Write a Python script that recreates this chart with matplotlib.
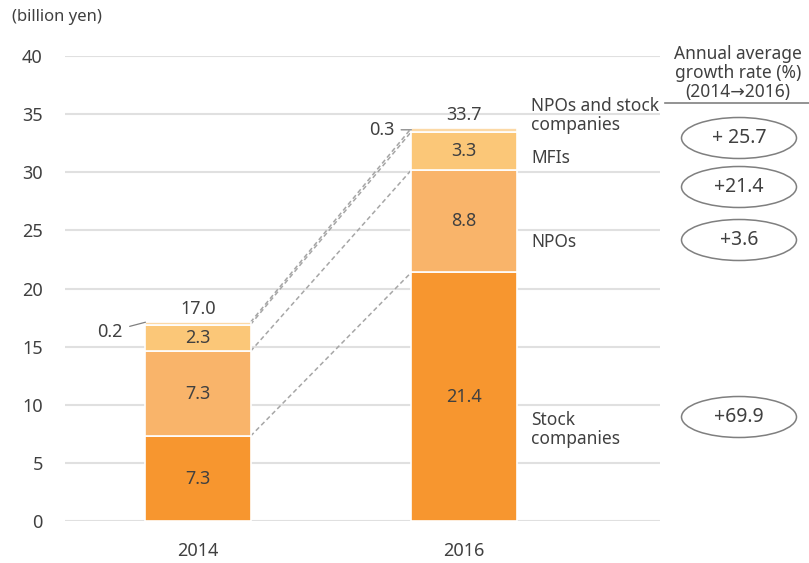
import numpy as np
import matplotlib.pyplot as plt
from matplotlib.patches import Ellipse

plt.rcParams['font.family'] = ['Noto Sans', 'DejaVu Sans']

# Data
years = ['2014', '2016']
stock = [7.3, 21.4]
npos = [7.3, 8.8]
mfis = [2.3, 3.3]
npos_stock = [0.2, 0.3]
totals = [17.0, 33.7]
segment_names = ['Stock\ncompanies', 'NPOs', 'MFIs', 'NPOs and stock\ncompanies']
growth = ['+69.9', '+3.6', '+21.4', '+ 25.7']

colors = ['#F7962F', '#F9B46A', '#FBC778', '#FCD9A6']
text_c = '#404040'
W, H = 809, 563

fig = plt.figure(figsize=(W / 100, H / 100), dpi=100)
# axes spans pixel x 65..660, y 56..521
ax = fig.add_axes([65 / W, (H - 521) / H, 595 / W, 465 / H])

x = np.arange(len(years))
bw = 0.395
segs = [stock, npos, mfis, npos_stock]
bottoms = np.zeros(len(years))
tops = []
for vals, c in zip(segs, colors):
    vals = np.array(vals)
    ax.bar(x, vals, bw, bottom=bottoms, color=c, edgecolor='white', linewidth=1.2, zorder=3)
    bottoms = bottoms + vals
    tops.append(bottoms.copy())

# value labels inside bars (skip tiny top segment)
bottoms = np.zeros(len(years))
for vals in segs[:3]:
    for i, v in enumerate(vals):
        ax.text(x[i], bottoms[i] + v / 2, f'{v:.1f}', ha='center', va='center', fontsize=13,
                color=text_c, zorder=4)
    bottoms = bottoms + np.array(vals)

# totals above bars
for i, t in enumerate(totals):
    ax.text(x[i], tops[-1][i] + 0.35, f'{t:.1f}', ha='center', va='bottom', fontsize=13, color=text_c, zorder=4)

# small top segment labels with leader lines
ax.annotate(f'{npos_stock[0]}', xy=(x[0] - bw / 2, tops[-1][0]), xytext=(x[0] - bw / 2 - 0.085, tops[-1][0] - 0.8),
            ha='right', va='center', fontsize=13, color=text_c,
            arrowprops=dict(arrowstyle='-', color='#808080', lw=0.9, shrinkA=3, shrinkB=0))
ax.annotate(f'{npos_stock[1]}', xy=(x[1] - bw / 2, tops[-1][1] - 0.15), xytext=(x[1] - bw / 2 - 0.065, tops[-1][1] - 0.15),
            ha='right', va='center', fontsize=13, color=text_c,
            arrowprops=dict(arrowstyle='-', color='#808080', lw=0.9, shrinkA=3, shrinkB=0))

# dashed connectors
for t in tops:
    ax.plot([x[0] + bw / 2, x[1] - bw / 2], [t[0], t[1]], ls=(0, (3, 2)), color='#A6A6A6', lw=1.1, zorder=2)

# segment names to the right of 2016 bar
name_y = [7.9, 24.0, 31.2, 34.9]
for n, yy in zip(segment_names, name_y):
    ax.text(x[1] + bw / 2 + 0.055, yy, n, ha='left', va='center', fontsize=12.5, color=text_c,
            linespacing=1.05, clip_on=False)

ax.set_xlim(-0.5, 1.737)
ax.set_ylim(0, 40)
ax.set_yticks(range(0, 41, 5))
ax.set_xticks(x)
ax.set_xticklabels(years)
ax.yaxis.grid(True, color='#E0E0E0', lw=1.5, zorder=0)
ax.set_axisbelow(True)
for s in ax.spines.values():
    s.set_visible(False)
ax.tick_params(axis='y', length=0, pad=16, labelsize=13, labelcolor=text_c)
ax.tick_params(axis='x', length=0, pad=15, labelsize=13, labelcolor=text_c)

fig.text(12 / W, 1 - 17 / H, '(billion yen)', ha='left', va='center', fontsize=12, color=text_c)

# growth rate header
fig.text(738 / W, 1 - 73 / H, 'Annual average\ngrowth rate (%)\n(2014→2016)', ha='center', va='center',
         fontsize=12.5, color=text_c, linespacing=1.1)
fig.add_artist(plt.Line2D([665 / W, 1.0], [1 - 103 / H, 1 - 103 / H], color='#808080', lw=1.2,
                          transform=fig.transFigure))

# growth ellipses
ell_y = [417, 240, 187, 138]
for g, py in zip(growth, ell_y):
    fig.add_artist(Ellipse((739 / W, 1 - py / H), 115 / W, 41 / H, transform=fig.transFigure,
                           facecolor='white', edgecolor='#7F7F7F', lw=1.1))
    fig.text(739 / W, 1 - py / H, g, ha='center', va='center', fontsize=14, color=text_c)

fig.savefig('out.png', dpi=100)
